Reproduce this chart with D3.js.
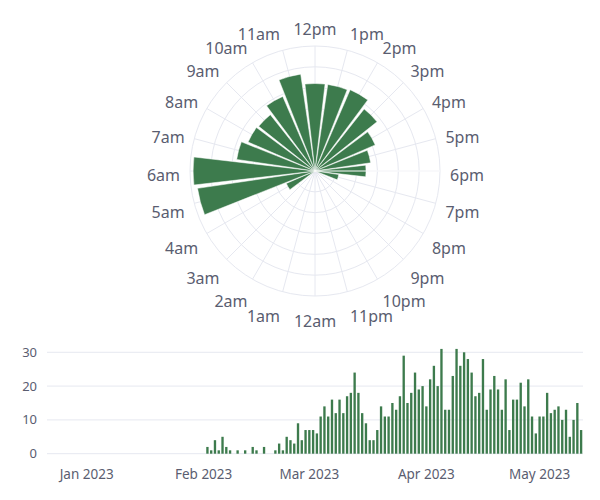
<!DOCTYPE html>
<html>
<head>
<meta charset="utf-8">
<script src="https://cdn.jsdelivr.net/npm/d3@7"></script>
<style>
  body { margin: 0; background: #fff; }
  svg { display: block; font-family: "Noto Sans", sans-serif; }
</style>
</head>
<body>
<svg id="chart" width="600" height="500"></svg>
<script>
// hour of day -> count (index 0 = 12am)
var hourLabels = ["12am","1am","2am","3am","4am","5am","6am","7am","8am","9am","10am","11am",
                  "12pm","1pm","2pm","3pm","4pm","5pm","6pm","7pm","8pm","9pm","10pm","11pm"];
var hourCounts = [0,0,0,0,30,114,117,76,70,69,78,94,
                  84,84,85,76,63,54,49,23,0,0,0,0];
var radialTicks = [20,40,60,80,100,120];

// daily counts, one per day starting at startDate
var startDate = "2022-12-22";
var decCounts = [0,0,0,0,0,0,0,0,0,0];
var janCounts = [0,0,0,0,0,0,0,0,0,0,0,0,0,0,0,0,0,0,0,0,0,0,0,0,0,0,0,0,0,0,0];
var febCounts = [0,2,1,4,1,5,2,1,0,1,0,1,0,2,1,0,2,0,0,1,3,1,5,4,3,9,4,7];
var marCounts = [7,7,6,11,14,11,16,12,16,12,17,18,24,18,12,9,4,4,7,14,11,11,15,13,17,29,15,18,24,19,20];
var aprCounts = [14,22,26,20,31,13,13,23,31,26,30,28,24,17,18,28,13,19,23,19,13,22,7,16,16,21,14,22,11,6];
var mayCounts = [11,11,18,12,13,14,10,13,5,10,15,7];
var monthTicks = ["2023-01-01","2023-02-01","2023-03-01","2023-04-01","2023-05-01"];
var countTicks = [0,10,20,30];

var green = "#3d7b4d";
var gridColor = "#e6e8f0";
var textColor = "#5a5d70";

var svg = d3.select("#chart");

// ---------- polar chart ----------
var cx = 315, cy = 171, R = 125;
var rScale = d3.scaleLinear().domain([0, 120]).range([0, R]);
var step = 2 * Math.PI / 24;
function hourAngle(h) { return ((h + 12) % 24) * step; }

var polar = svg.append("g").attr("transform", "translate(" + cx + "," + cy + ")");

polar.selectAll(".ring")
    .data(radialTicks)
    .enter().append("circle")
    .attr("r", function(d) { return rScale(d); })
    .attr("fill", "none")
    .attr("stroke", gridColor)
    .attr("stroke-width", 1);

polar.selectAll(".spoke")
    .data(hourLabels)
    .enter().append("line")
    .attr("x1", 0).attr("y1", 0)
    .attr("x2", function(d, i) { return R * Math.sin(hourAngle(i)); })
    .attr("y2", function(d, i) { return -R * Math.cos(hourAngle(i)); })
    .attr("stroke", gridColor)
    .attr("stroke-width", 1);

var arc = d3.arc()
    .innerRadius(0)
    .outerRadius(function(d) { return rScale(d.value); })
    .startAngle(function(d) { return hourAngle(d.hour) - step * 0.44; })
    .endAngle(function(d) { return hourAngle(d.hour) + step * 0.44; });

polar.selectAll(".wedge")
    .data(hourCounts.map(function(v, i) { return {hour: i, value: v}; }).filter(function(d) { return d.value > 0; }))
    .enter().append("path")
    .attr("d", arc)
    .attr("fill", green)
    .attr("stroke", "#fff")
    .attr("stroke-width", 0.5);

// radial axis line drawn above the bars
polar.append("line")
    .attr("x1", 0).attr("y1", 0)
    .attr("x2", rScale(120)).attr("y2", 0)
    .attr("stroke", "#fff")
    .attr("stroke-width", 1);

var labelR = R + 10;
polar.selectAll(".hourLabel")
    .data(hourLabels)
    .enter().append("text")
    .attr("x", function(d, i) { return labelR * Math.sin(hourAngle(i)); })
    .attr("y", function(d, i) {
        var c = Math.cos(hourAngle(i));
        return -labelR * c - c * 11 + 4;
    })
    .attr("dy", "0.35em")
    .attr("text-anchor", function(d, i) {
        var s = Math.sin(hourAngle(i));
        return s > 0.01 ? "start" : (s < -0.01 ? "end" : "middle");
    })
    .attr("font-size", 16)
    .attr("fill", textColor)
    .text(function(d) { return d; });

// ---------- daily bar chart ----------
var counts = decCounts.concat(janCounts, febCounts, marCounts, aprCounts, mayCounts);
var parse = d3.utcParse("%Y-%m-%d");
var day0 = parse(startDate);
var daily = counts.map(function(v, i) { return {date: d3.utcDay.offset(day0, i), value: v}; });

var x = d3.scaleUtc()
    .domain([d3.utcHour.offset(daily[0].date, -12), d3.utcHour.offset(daily[daily.length - 1].date, 12)])
    .range([47, 583]);
var y = d3.scaleLinear().domain([0, 32.6]).range([453.7, 343.5]);

var bars = svg.append("g");

bars.selectAll(".grid")
    .data(countTicks)
    .enter().append("line")
    .attr("x1", 47).attr("x2", 583)
    .attr("y1", function(d) { return y(d); })
    .attr("y2", function(d) { return y(d); })
    .attr("stroke", gridColor)
    .attr("stroke-width", 1);

var dayW = x(d3.utcDay.offset(day0, 1)) - x(day0);
var barW = dayW * 0.62;

bars.selectAll(".bar")
    .data(daily.filter(function(d) { return d.value > 0; }))
    .enter().append("rect")
    .attr("x", function(d) { return x(d.date) - barW / 2; })
    .attr("y", function(d) { return y(d.value); })
    .attr("width", barW)
    .attr("height", function(d) { return y(0) - y(d.value); })
    .attr("fill", green);

bars.selectAll(".ylab")
    .data(countTicks)
    .enter().append("text")
    .attr("x", 37)
    .attr("y", function(d) { return y(d); })
    .attr("dy", "0.35em")
    .attr("text-anchor", "end")
    .attr("font-size", 13)
    .attr("fill", textColor)
    .text(function(d) { return d; });

var fmt = d3.utcFormat("%b %Y");
bars.selectAll(".xlab")
    .data(monthTicks.map(parse))
    .enter().append("text")
    .attr("x", function(d) { return x(d); })
    .attr("y", 479)
    .attr("text-anchor", "middle")
    .attr("font-size", 13.5)
    .attr("fill", textColor)
    .text(function(d) { return fmt(d); });
</script>
</body>
</html>
